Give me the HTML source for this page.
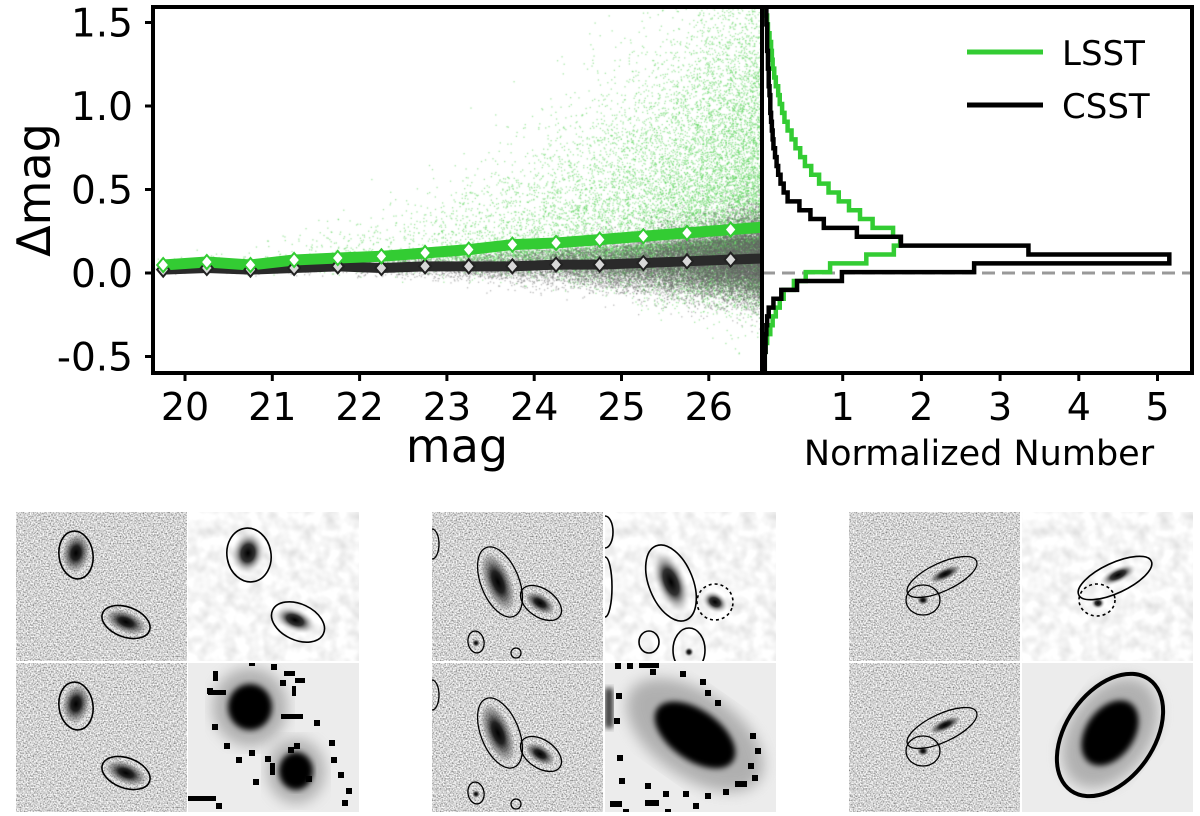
<!DOCTYPE html>
<html><head><meta charset="utf-8">
<style>
html,body{margin:0;padding:0;background:#fff;}
#wrap{position:relative;width:1200px;height:816px;overflow:hidden;font-family:"Liberation Sans","DejaVu Sans",sans-serif;}
#scat{position:absolute;left:0;top:0;}
#svg{position:absolute;left:0;top:0;}
text{font-family:"DejaVu Sans","Liberation Sans",sans-serif;fill:#000;}
</style></head>
<body>
<div id="wrap">
<canvas id="scat" width="1200" height="816"></canvas>
<svg id="svg" width="1200" height="816" xmlns="http://www.w3.org/2000/svg">
<defs>
  <filter id="noise2" x="0" y="0" width="100%" height="100%">
    <feTurbulence type="fractalNoise" baseFrequency="0.7" numOctaves="1" seed="7" result="t"/>
    <feColorMatrix in="t" type="matrix" values="1.6 0 0 0 -0.15  1.6 0 0 0 -0.15  1.6 0 0 0 -0.15  0 0 0 0 1"/>
  </filter>
  <filter id="smooth" x="0" y="0" width="100%" height="100%">
    <feTurbulence type="fractalNoise" baseFrequency="0.08" numOctaves="2" seed="5" result="t"/>
    <feColorMatrix in="t" type="matrix" values="0.45 0 0 0 0.7  0.45 0 0 0 0.7  0.45 0 0 0 0.7  0 0 0 0 1"/>
  </filter>
  <filter id="blur3"><feGaussianBlur stdDeviation="3"/></filter>
  <filter id="blur6"><feGaussianBlur stdDeviation="7"/></filter>
  <radialGradient id="gal"><stop offset="0" stop-color="#000"/><stop offset="0.35" stop-color="#222"/><stop offset="0.8" stop-color="#777" stop-opacity="0.5"/><stop offset="1" stop-color="#999" stop-opacity="0"/></radialGradient>
  <radialGradient id="gal2"><stop offset="0" stop-color="#000"/><stop offset="0.4" stop-color="#333"/><stop offset="1" stop-color="#ddd" stop-opacity="0"/></radialGradient>
  <clipPath id="clipMain"><rect x="153" y="7" width="609" height="366"/></clipPath>
  <clipPath id="clipHist"><rect x="762" y="7" width="430" height="366"/></clipPath>
</defs>
<g id="chart"></g>
<g id="thumbs"></g>
</svg>
</div>
<script>
// ---------- data ----------
const medMags = [19.75,20.25,20.75,21.25,21.75,22.25,22.75,23.25,23.75,24.25,24.75,25.25,25.75,26.25];
const lsstMed = [0.048,0.066,0.048,0.078,0.09,0.10,0.12,0.14,0.17,0.18,0.20,0.22,0.24,0.26];
const csstMed = [0.02,0.03,0.02,0.03,0.04,0.03,0.04,0.04,0.04,0.05,0.05,0.06,0.07,0.08];
const xTicks = [20,21,22,23,24,25,26];
const yTicks = [1.5,1.0,0.5,0.0,-0.5];
const yTickLabels = ["1.5","1.0","0.5","0.0","-0.5"];
const hTicks = [1,2,3,4,5];
const histStart = -0.631, histWidth = 0.053;
const csstHist = [0,0.01,0.01,0.02,0.02,0.03,0.04,0.06,0.12,0.22,0.42,0.99,2.67,5.15,3.36,1.74,1.18,0.76,0.59,0.45,0.30,0.25,0.21,0.18,0.16,0.14,0.12,0.11,0.10,0.09,0.08,0.08,0.07,0.06,0.06,0.05,0.05,0.04,0.04,0.04,0.03,0.03];
const lsstHist = [0,0.01,0.01,0.02,0.04,0.08,0.11,0.15,0.2,0.25,0.38,0.53,0.84,1.3,1.65,1.73,1.64,1.38,1.22,1.08,0.95,0.82,0.7,0.6,0.52,0.46,0.4,0.35,0.3,0.26,0.23,0.2,0.18,0.15,0.13,0.11,0.1,0.09,0.07,0.05,0.04,0.02];

// ---------- axes ----------
const X0=153, X1=762, Y0=7, Y1=373, HX1=1192;
function xs(m){return 185+(m-20)*87.3;}
function ys(v){return 273-v*167;}
function hx(n){return 764+n*78.7;}
const magMax=(X1-185)/87.3+20;

const NS="http://www.w3.org/2000/svg";
const chart=document.getElementById('chart');
function mk(tag,attrs,parent){const e=document.createElementNS(NS,tag);for(const k in attrs)e.setAttribute(k,attrs[k]);(parent||chart).appendChild(e);return e;}

// ---------- scatter (density texture, seeded) ----------
(function(){
  const c=document.getElementById('scat').getContext('2d');
  c.save();c.beginPath();c.rect(X0,Y0,X1-X0,Y1-Y0);c.clip();
  let a=12345>>>0;
  function r(){a=(a+0x6D2B79F5)>>>0;let t=a;t=Math.imul(t^(t>>>15),t|1);t^=t+Math.imul(t^(t>>>7),t|61);return((t^(t>>>14))>>>0)/4294967296;}
  function g(){let u=r()||1e-9,v=r();return Math.sqrt(-2*Math.log(u))*Math.cos(2*Math.PI*v);}
  function interp(arr,m){if(m<=medMags[0])return arr[0];for(let i=1;i<medMags.length;i++){if(m<=medMags[i]){const t=(m-medMags[i-1])/(medMags[i]-medMags[i-1]);return arr[i-1]+t*(arr[i]-arr[i-1]);}}const n=arr.length;return arr[n-1]+(m-medMags[n-1])*(arr[n-1]-arr[n-2])/0.5;}
  function sampleMag(){
    while(true){const m=19.6+r()*7.4;const p=Math.pow(10,0.36*(m-27));if(r()<p)return m;}
  }
  c.fillStyle='rgba(80,210,80,0.5)';
  for(let i=0;i<26000;i++){
    const m=sampleMag();const t=(m-19.6)/7.4;
    const sigU=0.03+0.85*Math.pow(t,2.0), sigD=0.02+0.2*Math.pow(t,2.5);
    const z=g();const v=interp(lsstMed,m)+(z>0?z*sigU:z*sigD)-0.06*t;
    c.fillRect(xs(m),ys(v),1.3,1.3);
  }
  c.fillStyle='rgba(100,100,100,0.45)';
  for(let i=0;i<24000;i++){
    const m=sampleMag();const t=(m-19.6)/7.4;
    const sig=0.015+0.13*Math.pow(t,2.3);
    const z=g();const v=interp(csstMed,m)+z*sig*(z>0?1.1:1.0);
    c.fillRect(xs(m),ys(v),1.3,1.3);
  }
  c.restore();
})();

// ---------- median lines ----------
function medPath(arr){
  let d='';medMags.forEach((m,i)=>{d+=(i?'L':'M')+xs(m)+','+ys(arr[i]);});
  const n=arr.length;const ext=arr[n-1]+(magMax-medMags[n-1])*(arr[n-1]-arr[n-2])/0.5;
  d+='L'+xs(magMax)+','+ys(ext);return d;
}
const gm=mk('g',{'clip-path':'url(#clipMain)'});


const cl=mk('path',{d:medPath(csstMed),fill:'none',stroke:'#2a2a2a','stroke-width':10,'stroke-linejoin':'round'},gm);


const ll=mk('path',{d:medPath(lsstMed),fill:'none',stroke:'#33cc33','stroke-width':11,'stroke-linejoin':'round'},gm);


function diamond(x,y,fill,stroke,parent){return mk('path',{d:`M${x},${y-7}L${x+6},${y}L${x},${y+7}L${x-6},${y}Z`,fill:fill,stroke:stroke,'stroke-width':2},parent);}
medMags.forEach((m,i)=>{
  const d1=diamond(xs(m),ys(csstMed[i]),'#d8d8d8','#222',gm);
  
  
  const d2=diamond(xs(m),ys(lsstMed[i]),'#fff','#33cc33',gm);
  
  
});

// ---------- histograms ----------
const gh=mk('g',{'clip-path':'url(#clipHist)'});


const dl=mk('line',{x1:762,y1:ys(0),x2:HX1,y2:ys(0),stroke:'#999','stroke-width':3,'stroke-dasharray':'13,7'},gh);


function histPath(vals){
  let d='M'+hx(0)+','+ys(histStart);
  vals.forEach((v,i)=>{const lo=histStart+i*histWidth, hi=lo+histWidth;d+='L'+hx(v)+','+ys(lo)+'L'+hx(v)+','+ys(hi);});
  d+='L'+hx(0)+','+ys(histStart+vals.length*histWidth);return d;
}
const hg=mk('path',{d:histPath(lsstHist),fill:'none',stroke:'#33cc33','stroke-width':4.5},gh);


const hb=mk('path',{d:histPath(csstHist),fill:'none',stroke:'#000','stroke-width':4.5},gh);



// ---------- frames & ticks ----------
const f1=mk('rect',{x:X0,y:Y0,width:X1-X0,height:Y1-Y0,fill:'none',stroke:'#000','stroke-width':4});


const f2=mk('rect',{x:X1,y:Y0,width:HX1-X1,height:Y1-Y0,fill:'none',stroke:'#000','stroke-width':4});


yTicks.forEach((v,i)=>{
  const y=ys(v);
  const t=mk('line',{x1:X0-8,y1:y,x2:X0,y2:y,stroke:'#000','stroke-width':3});
  
  
  const l=mk('text',{x:X0-20,y:y+14,'text-anchor':'end','font-size':39});
  l.textContent=yTickLabels[i];
  
  
});
xTicks.forEach(v=>{
  const x=xs(v);
  const t=mk('line',{x1:x,y1:Y1,x2:x,y2:Y1+8,stroke:'#000','stroke-width':3});
  
  
  const l=mk('text',{x:x,y:Y1+47,'text-anchor':'middle','font-size':38});
  l.textContent=String(v);
  
  
});
hTicks.forEach(v=>{
  const x=hx(v);
  const t=mk('line',{x1:x,y1:Y1,x2:x,y2:Y1+8,stroke:'#000','stroke-width':3});
  
  
  const l=mk('text',{x:x,y:Y1+47,'text-anchor':'middle','font-size':38});
  l.textContent=String(v);
  
  
});
const yl=mk('text',{x:0,y:0,transform:'translate(50,190) rotate(-90)','text-anchor':'middle','font-size':46});
yl.textContent='Δmag';


const xl=mk('text',{x:457,y:462,'text-anchor':'middle','font-size':46});
xl.textContent='mag';


const hl=mk('text',{x:979,y:465,'text-anchor':'middle','font-size':35});
hl.textContent='Normalized Number';


const lg=mk('g',{});


const l1=mk('line',{x1:967,y1:52,x2:1043,y2:52,stroke:'#33cc33','stroke-width':5},lg);


const t1=mk('text',{x:1062,y:65,'font-size':34},lg);t1.textContent='LSST';


const l2=mk('line',{x1:967,y1:105,x2:1043,y2:105,stroke:'#000','stroke-width':5},lg);


const t2=mk('text',{x:1062,y:118,'font-size':34},lg);t2.textContent='CSST';



// ---------- thumbnails ----------
const th=document.getElementById('thumbs');
const TW=171, TH=149;
function tile(x,y,kind,name){
  const g=mk('g',{transform:`translate(${x},${y})`},th);
  
  
  const cp=mk('clipPath',{id:'c'+name},g);
  mk('rect',{width:TW,height:TH},cp);
  const inner=mk('g',{'clip-path':`url(#c${name})`},g);
  if(kind==='raw') mk('rect',{width:TW,height:TH,fill:'#aaa',filter:'url(#noise2)'},inner);
  else if(kind==='smooth') mk('rect',{width:TW,height:TH,fill:'#eee',filter:'url(#smooth)'},inner);
  else {mk('rect',{width:TW,height:TH,fill:'#ececec'},inner);}
  return inner;
}
function gal(p,cx,cy,rx,ry,rot,grad){mk('ellipse',{cx:cx,cy:cy,rx:rx,ry:ry,fill:`url(#${grad||'gal'})`,transform:`rotate(${rot} ${cx} ${cy})`},p);}
function ell(p,cx,cy,rx,ry,rot,dash,w){const a={cx:cx,cy:cy,rx:rx,ry:ry,fill:'none',stroke:'#000','stroke-width':w||1.6,transform:`rotate(${rot} ${cx} ${cy})`};if(dash)a['stroke-dasharray']=dash;return mk('ellipse',a,p);}
function blob(p,cx,cy,rx,ry,rot){
  mk('ellipse',{cx:cx,cy:cy,rx:rx*1.7,ry:ry*1.7,fill:'#888',opacity:0.6,filter:'url(#blur6)',transform:`rotate(${rot} ${cx} ${cy})`},p);
  mk('ellipse',{cx:cx,cy:cy,rx:rx,ry:ry,fill:'#000',filter:'url(#blur3)',transform:`rotate(${rot} ${cx} ${cy})`},p);
}
function dots(p,list){list.forEach(d=>mk('rect',{x:d[0],y:d[1],width:d[2]||6,height:d[3]||6,fill:'#000'},p));}

let G=16, T=512;
function g1raw(p){gal(p,60,41,14,20,10);gal(p,110,110,22,11,22);ell(p,60,43,17,24,-8);ell(p,110,110,25,15,20);}
g1raw(tile(G,T,'raw','thumb-a-raw'));
let p=tile(G+TW+1,T,'smooth','thumb-a-smoothed');gal(p,60,41,17,22,10,'gal2');gal(p,107,108,22,12,22,'gal2');ell(p,61,43,22,27,-10);ell(p,110,110,28,18,25);
g1raw(tile(G,T+TH+2,'raw','thumb-a-raw-2'));
p=tile(G+TW+1,T+TH+2,'blur','thumb-a-segmap');blob(p,62,44,22,23,0);blob(p,108,108,17,19,0);
dots(p,[[25,8,5,10],[19,25],[20,27,18,5],[61,0,6,3],[83,1],[96,8,11,5],[92,17],[107,15,10,5],[104,23,4,10],[93,51,22,5],[126,57],[24,61],[36,80],[61,87],[48,94],[77,93],[100,84],[106,80],[141,77],[143,94],[82,100,5,12],[118,113],[150,109],[158,125],[154,137],[0,133,28,5],[28,140],[131,149],[65,116]]);

G=432;
function g2raw(p){gal(p,66,70,14,32,-22);gal(p,108,91,17,9,32);gal(p,44,131,4,4,0);ell(p,68,70,19,37,-22,null,1.3);ell(p,109,91,23,14,35,null,1.3);ell(p,44,130,8,11,-10,null,1.3);ell(p,84,141,5,5,0,null,1.3);ell(p,0,32,7,15,0,null,1.3);}
g2raw(tile(G,T,'raw','thumb-b-raw'));
p=tile(G+TW+2,T,'smooth','thumb-b-smoothed');gal(p,66,70,16,34,-22,'gal2');gal(p,110,90,14,10,30,'gal2');gal(p,84,140,5,5,0,'gal2');ell(p,66,71,22,40,-22);ell(p,110,90,18,18,20,'3,3');ell(p,44,130,10,11,0);ell(p,84,138,16,22,0);ell(p,0,20,8,16,0);ell(p,0,75,7,30,0);
g2raw(tile(G,T+TH+2,'raw','thumb-b-raw-2'));
p=tile(G+TW+2,T+TH+2,'blur','thumb-b-segmap');blob(p,90,72,46,25,35);mk('rect',{x:0,y:25,width:8,height:40,fill:'#333',filter:'url(#blur3)'},p);
dots(p,[[10,0],[22,0],[34,0,20,5],[45,6],[75,8],[95,16],[100,27],[110,37],[11,30],[9,55],[12,92],[14,115],[40,120],[58,128],[145,70],[150,85],[143,100],[147,112],[130,118,12,6],[118,126],[100,130],[78,128],[60,146],[40,137,14,6],[5,138,12,6],[18,146],[88,140]]);

G=849;
function g3raw(p){gal(p,96,62,17,6,-25);gal(p,74,88,6,5,0);ell(p,93,65,38,14,-25,null,1.3);ell(p,74,88,17,15,0,null,1.3);}
g3raw(tile(G,T,'raw','thumb-c-raw'));
p=tile(G+TW+2,T,'smooth','thumb-c-smoothed');gal(p,96,63,20,8,-25,'gal2');gal(p,76,91,7,6,0,'gal2');ell(p,93,66,40,15,-25);ell(p,75,88,18,16,0,'3,3');
g3raw(tile(G,T+TH+2,'raw','thumb-c-raw-2'));
p=tile(G+TW+2,T+TH+2,'blur','thumb-c-segmap');blob(p,88,70,24,36,35);ell(p,88,72,44,68,35,null,4);
</script>
</body></html>
